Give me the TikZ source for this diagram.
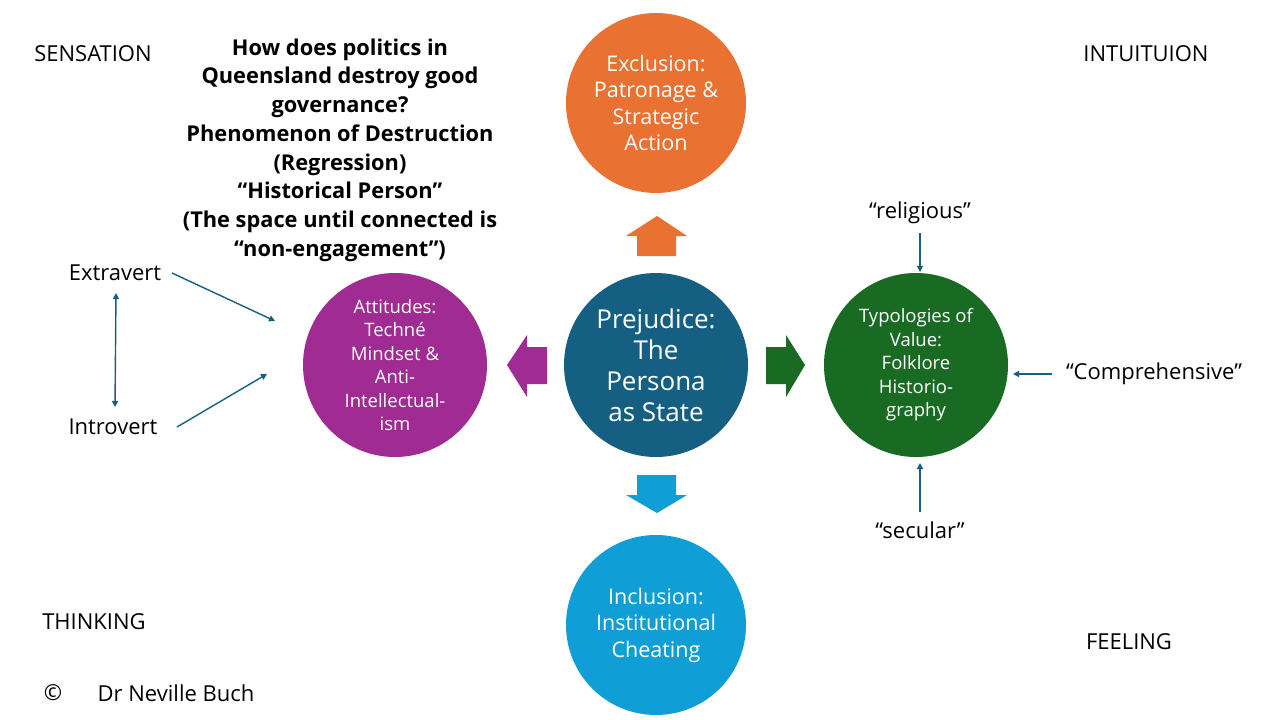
\documentclass[tikz,border=0pt]{standalone}
\usepackage{fontspec}
\setmainfont{Open Sans}
\usetikzlibrary{arrows.meta}
\definecolor{cOrange}{HTML}{E97132}
\definecolor{cBlue}{HTML}{156082}
\definecolor{cGreen}{HTML}{196B24}
\definecolor{cLight}{HTML}{0F9ED5}
\definecolor{cPurple}{HTML}{A02B93}
\tikzset{
  bubble/.style={circle, minimum size=184pt, inner sep=0pt, text=white, align=center},
  lbl/.style={inner sep=0pt, text=black, font=\fontsize{22}{26}\selectfont},
  thin arrow/.style={draw=cBlue, line width=1.4pt, -{Triangle[width=6pt,length=6pt]}},
}
\begin{document}
\begin{tikzpicture}[x=1pt,y=-1pt]
\useasboundingbox (0,0) rectangle (1280,720);
\fill[white] (0,0) rectangle (1280,720);

% circles
\node[bubble, fill=cOrange, minimum size=180pt, font=\fontsize{21.5}{26.5}\selectfont] (excl) at (656,103) {Exclusion:\\Patronage \&\\Strategic\\Action};
\node[bubble, fill=cBlue, font=\fontsize{26}{31}\selectfont] (prej) at (656,365) {Prejudice:\\The\\Persona\\as State};
\node[bubble, fill=cPurple, font=\fontsize{18.5}{23.5}\selectfont] (att) at (395,365) {Attitudes:\\Techné\\Mindset \&\\Anti-\\Intellectual-\\ism};
\node[bubble, fill=cGreen, font=\fontsize{18.5}{23.5}\selectfont] (typ) at (916,365) {Typologies of\\Value:\\Folklore\\Historio-\\graphy};
\node[bubble, fill=cLight, minimum size=180pt, font=\fontsize{21.5}{26.5}\selectfont] (incl) at (656,625) {Inclusion:\\Institutional\\Cheating};

% block arrows
\fill[cOrange] (657,216) -- (687,236) -- (676,236) -- (676,256) -- (637,256) -- (637,236) -- (626,236) -- cycle;
\fill[cPurple] (507,365) -- (527,335) -- (527,347) -- (547,347) -- (547,384) -- (527,384) -- (527,397) -- cycle;
\fill[cGreen] (805,365) -- (786,335) -- (786,347) -- (766,347) -- (766,384) -- (786,384) -- (786,397) -- cycle;
\fill[cLight] (657,513) -- (687,495) -- (676,495) -- (676,475) -- (637,475) -- (637,495) -- (626,495) -- cycle;

% corner labels
\node[lbl] (sens) at (93,54) {SENSATION};
\node[lbl] (intu) at (1146,54) {INTUITUION};
\node[lbl] (think) at (94,622) {THINKING};
\node[lbl] (feel) at (1129,642) {FEELING};
\node[lbl] (copy) at (53,693) {©};
\node[lbl] (auth) at (176,693) {Dr Neville Buch};

% title
\node[inner sep=0pt, align=center, font=\bfseries\fontsize{21.8}{28.7}\selectfont] (title) at (340,150) {How does politics in\\Queensland destroy good\\governance?\\Phenomenon of Destruction\\(Regression)\\“Historical Person”\\(The space until connected is\\“non-engagement”)};

% left labels
\node[lbl] (extra) at (115,273) {Extravert};
\node[lbl] (intro) at (113,427) {Introvert};
\coordinate (e1) at (172,273);
\coordinate (e2) at (275,321);
\coordinate (i1) at (177,427);
\coordinate (i2) at (267,374);
\coordinate (v1) at (116,293);
\coordinate (v2) at (115,407);
\draw[thin arrow] (e1) -- (e2);
\draw[thin arrow] (i1) -- (i2);
\draw[thin arrow, {Triangle[width=6pt,length=6pt]}-{Triangle[width=6pt,length=6pt]}] (v1) -- (v2);

% right labels
\node[lbl] (rel) at (920,213) {“religious”};
\node[lbl] (comp) at (1154,374) {“Comprehensive”};
\node[lbl] (sec) at (920,530) {“secular”};
\coordinate (r1) at (920,233);
\coordinate (r2) at (920,272);
\coordinate (c1) at (1052,374);
\coordinate (c2) at (1013,374);
\coordinate (s1) at (920,512);
\coordinate (s2) at (920,463);
\draw[thin arrow] (r1) -- (r2);
\draw[thin arrow] (c1) -- (c2);
\draw[thin arrow] (s1) -- (s2);
\end{tikzpicture}
\end{document}
